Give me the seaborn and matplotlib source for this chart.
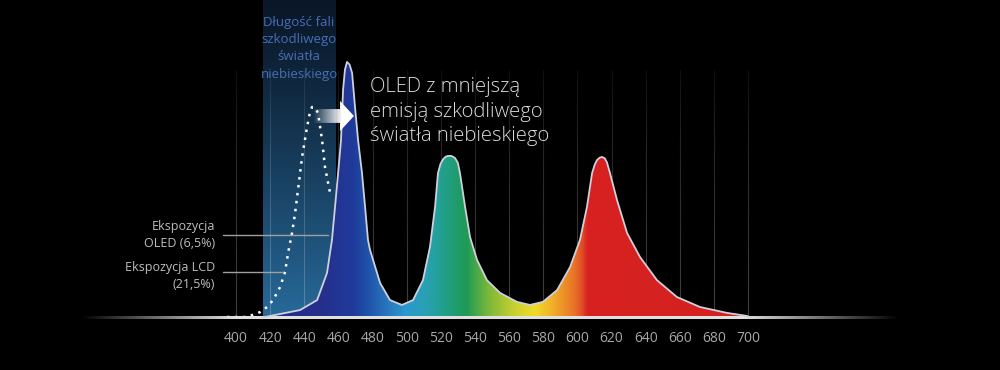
import numpy as np
import matplotlib
matplotlib.use('Agg')
import matplotlib.pyplot as plt
import seaborn as sns
from matplotlib.colors import LinearSegmentedColormap, to_rgb
from matplotlib.patches import Polygon
from matplotlib.collections import LineCollection

# OLED emission spectrum (nm, relative intensity, blue peak = 100)
oled_nm = [415.0, 417.0, 437.5, 447.5, 453.3, 456.2, 458.0, 459.8, 461.5, 462.7, 463.8, 465.0,
           466.5, 468.0, 469.7, 471.5, 473.8, 475.6, 477.3, 478.5, 484.4, 490.2, 497.2, 503.7,
           509.5, 513.6, 516.6, 518.3, 519.8, 521.3, 522.8, 524.2, 526.2, 528.3, 530.0, 531.2,
           534.2, 537.1, 541.2, 547.0, 554.7, 564.6, 572.2, 579.8, 588.1, 595.7, 601.5, 605.6,
           608.6, 610.2, 611.5, 613.0, 614.4, 616.0, 617.3, 619.1, 623.2, 629.1, 636.7, 646.6,
           658.3, 671.8, 687.6, 699.4, 702.0]
oled_val = [0.0, 0.4, 3.1, 7.0, 17.6, 30.5, 43.4, 56.6, 69.5, 89.1, 97.0, 100.0,
            99.0, 95.7, 82.4, 69.5, 56.6, 43.4, 30.5, 26.6, 13.7, 7.0, 5.1, 7.0,
            14.8, 27.7, 43.4, 56.6, 60.2, 62.0, 63.0, 63.3, 63.3, 62.5, 60.5, 56.6,
            43.4, 31.6, 22.7, 14.8, 9.8, 6.3, 5.1, 6.3, 10.9, 19.9, 30.5, 43.4,
            56.6, 60.0, 61.7, 62.6, 62.9, 62.4, 60.8, 56.6, 46.1, 33.2, 23.8, 14.8,
            8.2, 4.3, 2.0, 0.8, 0.0]

# LCD spectrum (dotted), visible part only
lcd_nm = [394.7, 406.4, 414.1, 418.2, 421.7, 425.8, 428.7, 430.5, 432.8, 434.6, 438.7,
          441.6, 443.2, 444.5, 446.2, 448.0, 450.4, 452.1, 455.1]
lcd_val = [0.4, 0.4, 2.3, 4.3, 7.0, 12.1, 18.0, 25.4, 33.2, 41.0, 62.9,
           74.6, 80.0, 82.4, 82.2, 80.1, 69.5, 59.0, 48.8]

ticks = list(range(400, 701, 20))
band = (415.8, 458.0)   # harmful blue light range

# colour of the spectrum fill along the wavelength
spec_nm = [410, 450, 468, 476, 489, 499, 510, 520, 535, 548, 563, 575, 587, 599, 603, 606, 705]
spec_col = ['#232a88', '#262f8c', '#1f3a9a', '#1e50a8', '#2a78c0', '#2a98d0', '#2aa0b8',
            '#22a090', '#1f9a55', '#7cb83a', '#c8d030', '#f0dc28', '#f0a828', '#e87028',
            '#e04a28', '#d82222', '#d42020']

sns.set_style('dark', {'axes.facecolor': 'black', 'figure.facecolor': 'black'})
plt.rcParams['font.family'] = ['Open Sans', 'DejaVu Sans']

fig = plt.figure(figsize=(10, 3.7), dpi=100)
ax = fig.add_axes([0, 52 / 370, 1, 318 / 370])
ax.set_facecolor('black')
X0, X1, Y1 = 261.7, 847.6, 124.2

# blue band with vertical gradient
top, bot = np.array(to_rgb('#0a1728')), np.array(to_rgb('#276a9a'))
t = np.linspace(0, 1, 200)[:, None] ** 1.2
band_img = (top * (1 - t) + bot * t)[:, None, :]
ax.imshow(band_img, extent=(band[0], band[1], 0, Y1), aspect='auto', zorder=0.5)

# vertical grid lines fading upwards
segs, cols = [], []
for x in ticks:
    ys = np.linspace(0, 97, 25)
    for a, b in zip(ys[:-1], ys[1:]):
        segs.append([(x, a), (x, b)])
        cols.append((0.75, 0.75, 0.75, 0.3 * (1 - a / 97) ** 0.6 + 0.04))
ax.add_collection(LineCollection(segs, colors=cols, linewidths=0.8, zorder=1,
                                 capstyle='butt'))

# baseline strip, fading at both ends
xs = np.linspace(308.6, 789, 400)
alph = np.clip(np.minimum((xs - 308.6) / 90, (789 - xs) / 90), 0, 1)
strip = np.ones((1, len(xs), 4)) * 0.88
strip[..., 3] = alph[None, :]
base = ax.imshow(strip, extent=(308.6, 789, -0.45, 0.45), aspect='auto', zorder=4)
base.set_clip_on(False)

# LCD dotted curve
sns.lineplot(x=lcd_nm, y=lcd_val, ax=ax, color='white', linewidth=1.8,
             linestyle=(0, (1, 2.2)), zorder=2)

# spectrum fill with colour gradient
spec_cmap = LinearSegmentedColormap.from_list(
    'spec', [((n - 410) / 295, c) for n, c in zip(spec_nm, spec_col)])
poly = ax.fill_between(oled_nm, oled_val, 0, color='none', zorder=3)
grad = np.linspace(0, 1, 800)[None, :]
im = ax.imshow(grad, extent=(410, 705, 0, 101), aspect='auto', cmap=spec_cmap, zorder=3)
im.set_clip_path(poly.get_paths()[0], ax.transData)
sns.lineplot(x=oled_nm, y=oled_val, ax=ax, color='#cfd0dc', linewidth=1.3, zorder=5)

# arrow with transparency ramp
arrow_pts = [(445.1, 81.6), (460.9, 81.6), (460.9, 84.8), (469.1, 78.9),
             (460.9, 73.0), (460.9, 76.2), (445.1, 76.2)]
arrow = Polygon(arrow_pts, closed=True, facecolor='none', edgecolor='none')
ax.add_patch(arrow)
ramp = np.ones((2, 200, 4))
ramp[..., 3] = np.clip(np.linspace(0, 1.4, 200), 0, 1)[None, :]
aim = ax.imshow(ramp, extent=(445.1, 469.1, 73.0, 84.8), aspect='auto', zorder=6)
aim.set_clip_path(arrow)

# annotations
ax.text(436.9, 105.3, 'Długość fali\nszkodliwego\nświatła\nniebieskiego', color='#4a6db5',
        fontsize=9.5, ha='center', va='center', linespacing=1.42, zorder=7)
ax.text(478.5, 80.6, 'OLED z mniejszą\nemisją szkodliwego\nświatła niebieskiego',
        color='#dadada', fontsize=14.6, ha='left', va='center', linespacing=1.32,
        fontweight='light', zorder=7)
ax.text(387.7, 32.4, 'Ekspozycja\nOLED (6,5%)', color='#bdbdbd', fontsize=9,
        ha='right', va='center', multialignment='right', linespacing=1.42)
ax.text(387.7, 16.4, 'Ekspozycja LCD\n(21,5%)', color='#bdbdbd', fontsize=9,
        ha='right', va='center', multialignment='right', linespacing=1.42)
ax.plot([392.4, 453.9], [32.4, 32.4], color='#a0a0a0', lw=1, zorder=6)
ax.plot([392.4, 427.5], [18.0, 18.0], color='#a0a0a0', lw=1, zorder=6)

ax.set_xlim(X0, X1)
ax.set_ylim(0, Y1)
ax.set_xticks(ticks)
ax.set_xticklabels([str(v) for v in ticks])
ax.set_yticks([])
ax.tick_params(axis='x', length=0, pad=9, labelcolor='#a8a8a8', labelsize=10)
ax.set_xlabel('')
ax.set_ylabel('')
ax.grid(False)
for s in ax.spines.values():
    s.set_visible(False)

fig.savefig('out.png', dpi=100, facecolor='black')
